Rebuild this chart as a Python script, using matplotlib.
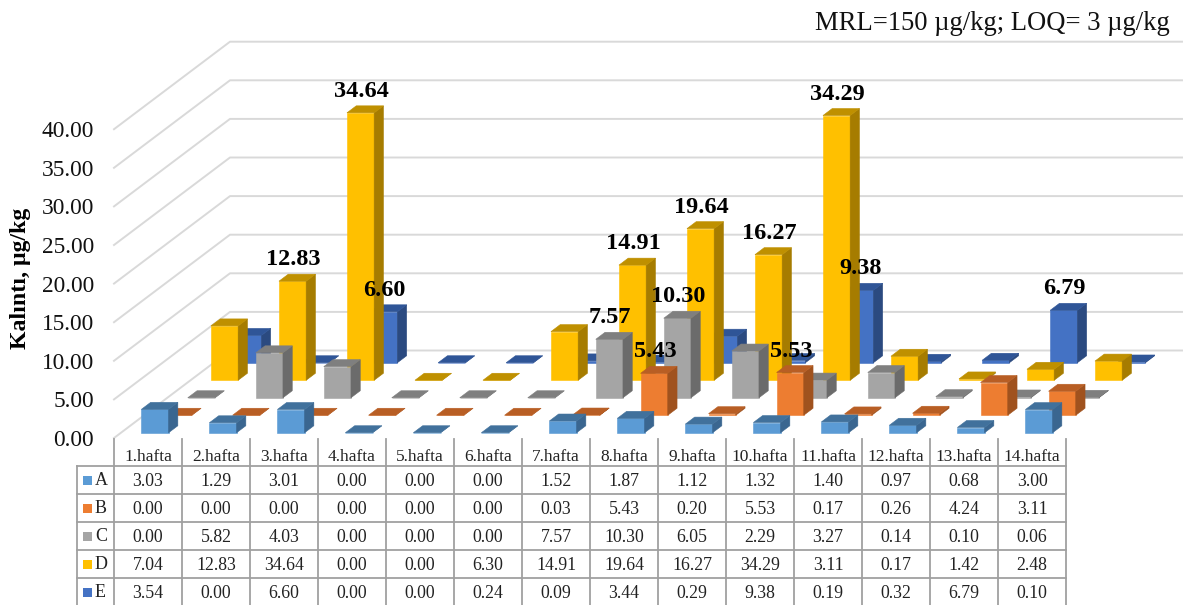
import matplotlib
matplotlib.use('Agg')
import matplotlib.pyplot as plt
from matplotlib.patches import Polygon, Rectangle

plt.rcParams['font.family'] = ['Liberation Serif', 'DejaVu Serif']

weeks = ['1.hafta', '2.hafta', '3.hafta', '4.hafta', '5.hafta', '6.hafta', '7.hafta',
         '8.hafta', '9.hafta', '10.hafta', '11.hafta', '12.hafta', '13.hafta', '14.hafta']
names = ['A', 'B', 'C', 'D', 'E']
a = [3.03, 1.29, 3.01, 0.00, 0.00, 0.00, 1.52, 1.87, 1.12, 1.32, 1.40, 0.97, 0.68, 3.00]
b = [0.00, 0.00, 0.00, 0.00, 0.00, 0.00, 0.03, 5.43, 0.20, 5.53, 0.17, 0.26, 4.24, 3.11]
c = [0.00, 5.82, 4.03, 0.00, 0.00, 0.00, 7.57, 10.30, 6.05, 2.29, 3.27, 0.14, 0.10, 0.06]
d = [7.04, 12.83, 34.64, 0.00, 0.00, 6.30, 14.91, 19.64, 16.27, 34.29, 3.11, 0.17, 1.42, 2.48]
e = [3.54, 0.00, 6.60, 0.00, 0.00, 0.24, 0.09, 3.44, 0.29, 9.38, 0.19, 0.32, 6.79, 0.10]
series = [a, b, c, d, e]
yticks = [0, 5, 10, 15, 20, 25, 30, 35, 40]

# (series index, week index) of the bars that carry a label
labelled = [(1, 7), (1, 9), (2, 6), (2, 7), (3, 1), (3, 2), (3, 6), (3, 7), (3, 8), (3, 9),
            (4, 2), (4, 9), (4, 12)]

face = ['#5B9BD5', '#ED7D31', '#A5A5A5', '#FFC000', '#4472C4']
top = ['#41719C', '#B85E24', '#7F7F7F', '#BF9000', '#2F5597']
side = ['#3A6690', '#A0521E', '#6B6B6B', '#A67C00', '#2B4A80']

# oblique projection, everything below is in picture pixels
x0, y0 = 114, 438
col_w = 68.0
unit = 7.72
depth_x, depth_y = 23.2, -17.5
bar_w, bar_d = 0.4, 0.4


def proj(week, row, val):
    return x0 + week * col_w + row * depth_x, y0 + row * depth_y - val * unit


fig = plt.figure(figsize=(11.84, 6.05), dpi=100, facecolor='white')
ax = fig.add_axes([0, 0, 1, 1])
ax.set_xlim(0, 1184)
ax.set_ylim(605, 0)
ax.axis('off')

# walls
n = len(weeks)
for t in yticks:
    p0 = proj(0, 0, t)
    p1 = proj(0, 5, t)
    p2 = proj(n, 5, t)
    ax.plot([p0[0], p1[0], p2[0]], [p0[1], p1[1], p2[1]], color='#D9D9D9', lw=1.4, zorder=1)
    ax.text(94, p0[1] + 2.5, '%.2f' % t, ha='right', va='center', fontsize=16.8, color='#111111')

# bars, back row first
z = 2
for r in range(4, -1, -1):
    for w in range(n):
        v = series[r][w]
        l = w + (1 - bar_w) / 2
        h = l + bar_w
        f = r + (1 - bar_d) / 2
        k = f + bar_d
        ax.add_patch(Polygon([proj(l, f, 0), proj(h, f, 0), proj(h, f, v), proj(l, f, v)],
                             fc=face[r], ec=face[r], lw=0.4, zorder=z))
        ax.add_patch(Polygon([proj(h, f, 0), proj(h, k, 0), proj(h, k, v), proj(h, f, v)],
                             fc=side[r], ec=side[r], lw=0.4, zorder=z))
        ax.add_patch(Polygon([proj(l, f, v), proj(h, f, v), proj(h, k, v), proj(l, k, v)],
                             fc=top[r], ec=top[r], lw=0.4, zorder=z))
        z += 1

for r, w in labelled:
    v = series[r][w]
    px, py = proj(w + 0.5, r + 0.3, v)
    ax.text(px + 1, py - 21.5, '%.2f' % v, ha='center', va='center', fontsize=17.5,
            fontweight='bold', color='black', zorder=500)

# data table
grid = '#A0A0A0'
table_l = 77
head_top = 439
rows_y = [466, 494, 522, 550, 578, 606]
for k in range(n + 1):
    xx = x0 + k * col_w
    ax.plot([xx, xx], [head_top, rows_y[-1]], color=grid, lw=1.3, zorder=600)
ax.plot([table_l, table_l], [rows_y[0], rows_y[-1]], color=grid, lw=1.3, zorder=600)
for yy in rows_y:
    ax.plot([table_l, x0 + n * col_w], [yy, yy], color=grid, lw=1.3, zorder=600)

for k, lab in enumerate(weeks):
    ax.text(x0 + (k + 0.5) * col_w, 457, lab, ha='center', va='center', fontsize=12.5, color='#222222')
for r, name in enumerate(names):
    yc = (rows_y[r] + rows_y[r + 1]) / 2
    ax.add_patch(Rectangle((83, yc - 4.5), 9, 9, fc=face[r], ec='none', zorder=601))
    ax.text(95, yc + 0.5, name, ha='left', va='center', fontsize=13, color='#222222')
    for k in range(n):
        ax.text(x0 + (k + 0.5) * col_w, yc + 1.5, '%.2f' % series[r][k], ha='center', va='center',
                fontsize=12.8, color='#222222')

ax.text(21, 278, 'Kalıntı, μg/kg', rotation=90, ha='center', va='center', fontsize=17.2,
        fontweight='bold', color='black')
ax.text(1170, 23, 'MRL=150 µg/kg; LOQ= 3 µg/kg', ha='right', va='center', fontsize=19.2, color='#111111')

fig.savefig('out.png', dpi=100)
